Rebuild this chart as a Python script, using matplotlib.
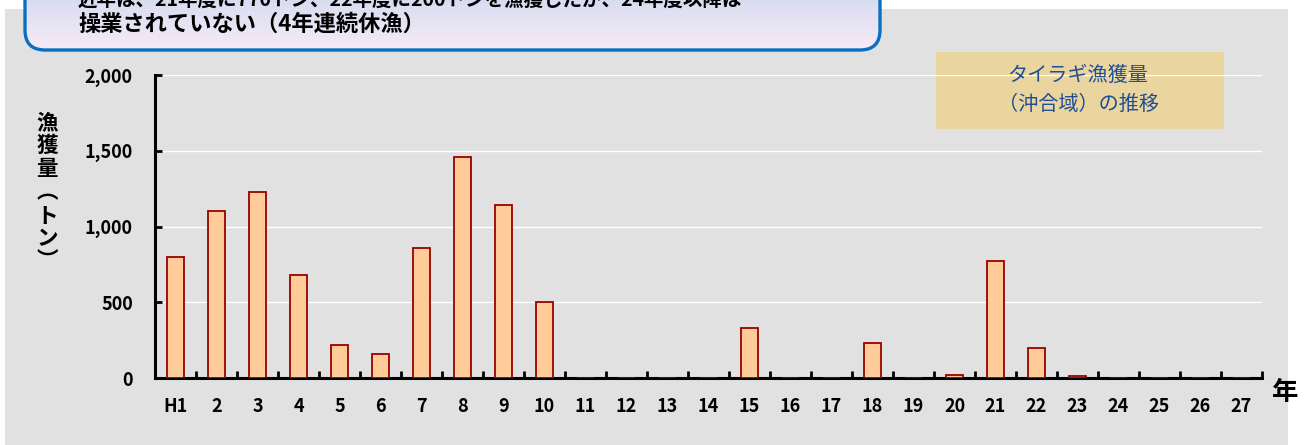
import numpy as np
import matplotlib.pyplot as plt
from matplotlib.patches import FancyBboxPatch, Rectangle

plt.rcParams['font.family'] = ['Noto Sans CJK JP', 'DejaVu Sans']

# Data (tons, offshore area)
years = ['H1', '2', '3', '4', '5', '6', '7', '8', '9', '10', '11', '12', '13', '14',
         '15', '16', '17', '18', '19', '20', '21', '22', '23', '24', '25', '26', '27']
catch = [800, 1100, 1230, 680, 220, 160, 860, 1460, 1140, 500, 0, 0, 0, 0,
         330, 0, 0, 230, 0, 20, 770, 200, 10, 0, 0, 0, 0]
y_ticks = [0, 500, 1000, 1500, 2000]

W, H = 1309, 445
fig = plt.figure(figsize=(W / 100, H / 100), dpi=100)
fig.patch.set_facecolor('white')

# gray page background
fig.patches.append(Rectangle((5 / W, 0), 1283 / W, 1 - 9 / H, transform=fig.transFigure,
                             facecolor='#e1e1e1', edgecolor='none', zorder=-2))
# title panel
fig.patches.append(Rectangle((936 / W, 1 - 129 / H), 288 / W, 77 / H, transform=fig.transFigure,
                             facecolor='#ebd59e', edgecolor='none', zorder=-1))

ax = fig.add_axes([155 / W, 1 - 378 / H, 1107 / W, 303 / H])
ax.set_facecolor('none')
x = np.arange(len(years))
ax.bar(x, catch, width=0.4, color='#ffcc99', edgecolor='#990000', linewidth=1.3, zorder=3)

ax.set_xlim(-0.5, len(years) - 0.5)
ax.set_ylim(0, 2000)
ax.set_yticks(y_ticks)
ax.set_yticklabels([f'{v:,}' for v in y_ticks], fontsize=13, fontweight='bold')
ax.set_xticks(x)
ax.set_xticklabels(years, fontsize=13, fontweight='bold')
ax.set_xticks(np.arange(-0.5, len(years), 1), minor=True)
ax.tick_params(axis='x', which='major', length=0, pad=14)
ax.tick_params(axis='x', which='minor', direction='in', length=5, width=2)
ax.tick_params(axis='y', direction='in', length=5, width=2, pad=16)
for v in y_ticks[1:]:
    ax.axhline(v, color='white', linewidth=1, zorder=1)
for s in ['top', 'right']:
    ax.spines[s].set_visible(False)
for s in ['left', 'bottom']:
    ax.spines[s].set_linewidth(2.2)

# axis titles
fig.text(47 / W, 1 - 192 / H, '\n'.join('漁獲量︵トン︶'), ha='center', va='center',
         fontsize=15.5, fontweight='bold', linespacing=1.13)
fig.text(1285 / W, 1 - 393 / H, '年', ha='center', va='center', fontsize=19, fontweight='bold')
fig.text(1078 / W, 1 - 90 / H, 'タイラギ漁獲量\n（沖合域）の推移', ha='center', va='center',
         fontsize=14.5, color='#1f4e96', linespacing=1.45)

# note box at top (gradient, cut off by the image edge)
bax = fig.add_axes([0, 0, 1, 1], zorder=5)
bax.set_xlim(0, W)
bax.set_ylim(H, 0)
bax.axis('off')
box = FancyBboxPatch((25, -40), 855, 90, boxstyle='round,pad=0,rounding_size=20',
                     facecolor='none', edgecolor='#0a6fc2', linewidth=2.4, zorder=3)
bax.add_patch(box)
grad = np.linspace(0, 1, 100)[:, None]
top_c = np.array([0.75, 0.82, 0.92])
bot_c = np.array([0.97, 0.92, 0.97])
img = top_c + (bot_c - top_c) * grad[:, :, None]
img = np.repeat(img, 2, axis=1)
im = bax.imshow(img, extent=(25, 880, 50, -40), aspect='auto', zorder=2)
im.set_clip_path(box)
bax.text(78, 0, '近年は、21年度に770トン、22年度に200トンを漁獲したが、24年度以降は',
         fontsize=14, fontweight='bold', va='center', ha='left', zorder=4)
bax.text(78, 24, '操業されていない（4年連続休漁）', fontsize=16, fontweight='bold',
         va='center', ha='left', zorder=4)

fig.savefig('out.png', dpi=100)
